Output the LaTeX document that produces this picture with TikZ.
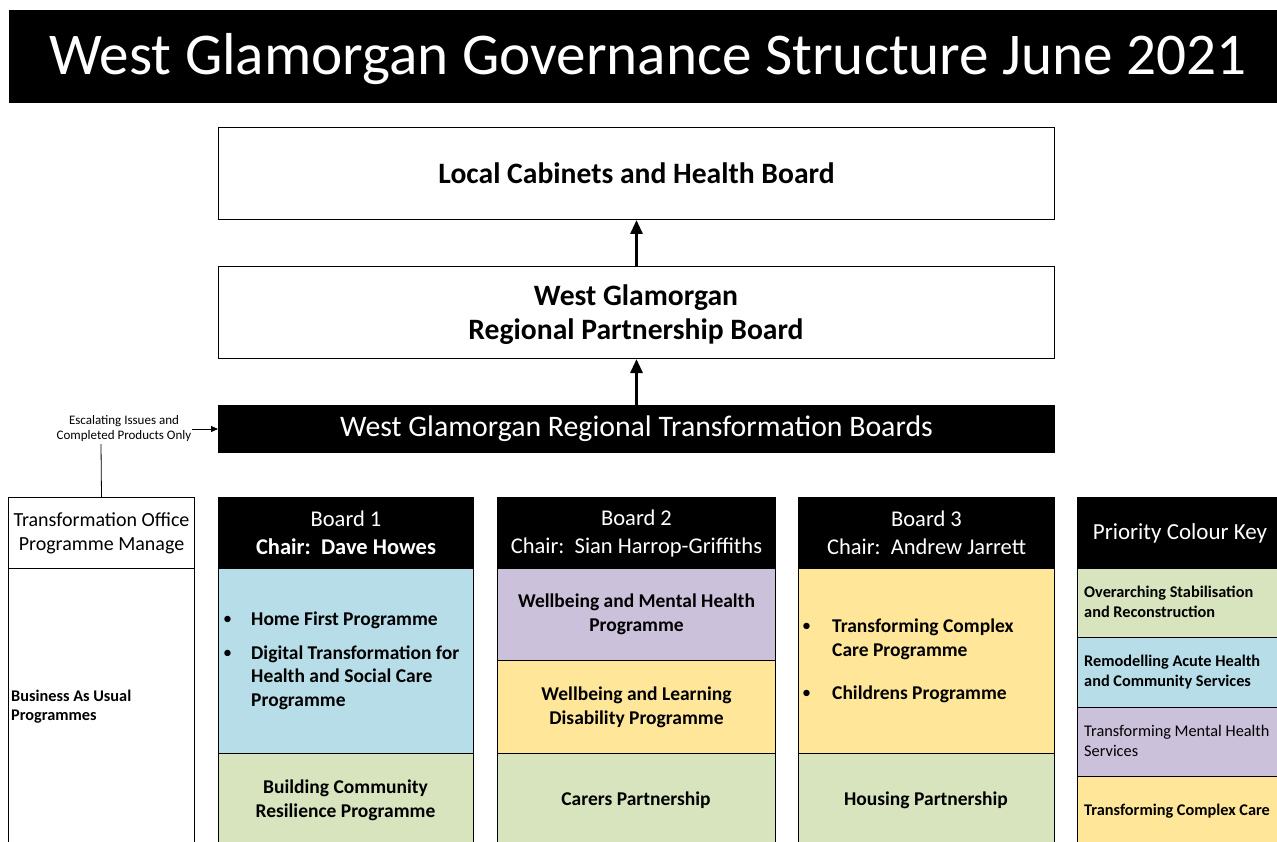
\documentclass[tikz,border=0pt]{standalone}
\usepackage{fontspec}
\setmainfont{Carlito}
\usetikzlibrary{arrows.meta}
\definecolor{kblue}{RGB}{183,222,232}
\definecolor{kgreen}{RGB}{215,228,189}
\definecolor{kpurple}{RGB}{204,193,218}
\definecolor{kyellow}{RGB}{255,230,153}
\newcommand\fsz[2]{\fontsize{#1}{#2}\selectfont}
\begin{document}
\begin{tikzpicture}[x=1pt,y=-1pt,
  box/.style={draw=black, line width=1pt, inner sep=0pt, anchor=north west, align=center},
  hdr/.style={box, fill=black, text=white},
  bigtxt/.style={font=\fsz{29.6}{34}\bfseries},
  hdrtxt/.style={font=\fsz{22.5}{28}},
  bodytxt/.style={font=\fsz{19.5}{24}\bfseries},
  keytxt/.style={font=\fsz{16.3}{20}\bfseries, anchor=west, align=left, inner sep=0pt},
  lbl/.style={anchor=west, align=left, inner sep=0pt},
  uparrow/.style={line width=3pt, -{Triangle[length=14pt,width=12pt]}},
  thinarrow/.style={line width=0.8pt, -{Triangle[length=7pt,width=6pt]}}
]
\clip (0,0) rectangle (1277,842);
\fill[white] (0,0) rectangle (1277,842);

% title
\node[hdr, draw=none, minimum width=1270pt, minimum height=93pt] (title) at (8,10) {};
\node[text=white, inner sep=0pt, font=\fsz{59.2}{70}] (titletxt) at (648,59) {West Glamorgan Governance Structure June 2021};

% top boxes
\node[box, minimum width=836pt, minimum height=92pt, bigtxt] (lcab) at (218,127) {Local Cabinets and Health Board};
\node[box, minimum width=836pt, minimum height=92pt] (rpb) at (218,266) {};
\node[bigtxt, align=center, inner sep=0pt] (rpbt) at (636,315) {West Glamorgan\\Regional Partnership Board};
\node[hdr, minimum width=836pt, minimum height=47pt, font=\fsz{29.8}{30}] (rtb) at (218,405) {West Glamorgan Regional Transformation Boards};
\draw[uparrow] (rpb.north) -- (lcab.south);
\draw[uparrow] (rtb.north) -- (rpb.south);

% escalating note
\node[font=\fsz{13}{15}, align=center, inner sep=0pt] (esc) at (124,429) {Escalating Issues and\\Completed Products Only};
\draw[thinarrow] (esc.east) ++(1,0) coordinate (escr) -- (rtb.west |- escr);

% transformation office
\node[box, minimum width=186pt, minimum height=71pt, font=\fsz{20}{24}] (toh) at (8,497) {Transformation Office\\Programme Manage};
\node[box, minimum width=186pt, minimum height=290pt] (tob) at (8,568) {};
\node[lbl, font=\fsz{16.3}{19}\bfseries] (bau) at (11,707) {Business As Usual\\Programmes};
\coordinate (escb) at (101,444);
\draw[line width=0.8pt] (toh.north) -- (escb);

% board 1
\node[hdr, minimum width=255pt, minimum height=71pt, hdrtxt] (b1h) at (218,497) {Board 1\\\textbf{Chair:\ \ Dave Howes}};
\node[box, fill=kblue, minimum width=255pt, minimum height=185pt] (b1a) at (218,568) {};
\node[box, fill=kgreen, minimum width=255pt, minimum height=105pt] (b1b) at (218,753) {};
\node[bodytxt, align=center, inner sep=0pt] (b1bt) at (345.5,800) {Building Community\\Resilience Programme};
\node[lbl, font=\fsz{18}{24}] (b1bu1) at (223,620) {\textbullet};
\node[lbl, bodytxt] (b1t1) at (251,620) {Home First Programme};
\node[lbl, font=\fsz{18}{24}] (b1bu2) at (223,654) {\textbullet};
\node[lbl, font=\fsz{19.5}{23.5}\bfseries] (b1t2) at (251,677.5) {Digital Transformation for\\Health and Social Care\\Programme};

% board 2
\node[hdr, minimum width=278pt, minimum height=71pt, hdrtxt] (b2h) at (497,497) {Board 2\\Chair:\ \ Sian Harrop-Griffiths};
\node[box, fill=kpurple, minimum width=278pt, minimum height=92pt, bodytxt] (b2a) at (497,568) {Wellbeing and Mental Health\\Programme};
\node[box, fill=kyellow, minimum width=278pt, minimum height=93pt, bodytxt] (b2b) at (497,660) {Wellbeing and Learning\\Disability Programme};
\node[box, fill=kgreen, minimum width=278pt, minimum height=105pt] (b2c) at (497,753) {};
\node[bodytxt, inner sep=0pt] (b2ct) at (636,800) {Carers Partnership};

% board 3
\node[hdr, minimum width=256pt, minimum height=71pt, hdrtxt] (b3h) at (798,497) {Board 3\\Chair:\ \ Andrew Jarrett};
\node[box, fill=kyellow, minimum width=256pt, minimum height=185pt] (b3a) at (798,568) {};
\node[box, fill=kgreen, minimum width=256pt, minimum height=105pt] (b3b) at (798,753) {};
\node[bodytxt, inner sep=0pt] (b3bt) at (926,800) {Housing Partnership};
\node[lbl, font=\fsz{18}{24}] (b3bu1) at (802,627) {\textbullet};
\node[lbl, bodytxt] (b3t1) at (832,639) {Transforming Complex\\Care Programme};
\node[lbl, font=\fsz{18}{24}] (b3bu2) at (802,694) {\textbullet};
\node[lbl, bodytxt] (b3t2) at (832,694) {Childrens Programme};

% key
\node[hdr, minimum width=205pt, minimum height=71pt, font=\fsz{23}{26}] (kh) at (1077,497) {Priority Colour Key};
\node[box, fill=kgreen, minimum width=205pt, minimum height=69pt] (k1) at (1077,568) {};
\node[box, fill=kblue, minimum width=205pt, minimum height=70pt] (k2) at (1077,637) {};
\node[box, fill=kpurple, minimum width=205pt, minimum height=69pt] (k3) at (1077,707) {};
\node[box, fill=kyellow, minimum width=205pt, minimum height=80pt] (k4) at (1077,776) {};
\node[keytxt] (k1t) at (1084,602) {Overarching Stabilisation\\and Reconstruction};
\node[keytxt] (k2t) at (1084,672) {Remodelling Acute Health\\and Community Services};
\node[keytxt, font=\fsz{16.3}{20}] (k3t) at (1084,741) {Transforming Mental Health\\Services};
\node[keytxt] (k4t) at (1084,811) {Transforming Complex Care};
\end{tikzpicture}
\end{document}
